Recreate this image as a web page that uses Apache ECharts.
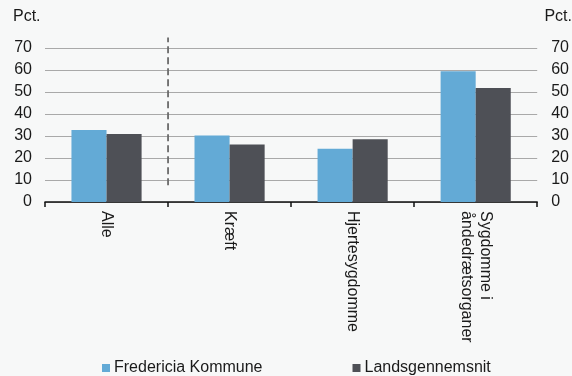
<!DOCTYPE html>
<html><head><meta charset="utf-8">
<script src="https://cdn.jsdelivr.net/npm/echarts@6/dist/echarts.min.js"></script>
<style>html,body{margin:0;padding:0;background:#f7f8f8;}#c{width:572px;height:376px;}</style>
</head><body><div id="c"></div>
<script>
const categories = ['Alle', 'Kræft', 'Hjertesygdomme', 'Sygdomme i\nåndedrætsorganer'];
const fredericia = [32.7, 30.2, 24.2, 59.4];
const landsgennemsnit = [30.9, 26.1, 28.5, 51.8];
const yTicks = [0, 10, 20, 30, 40, 50, 60, 70];
const seriesNames = ['Fredericia Kommune', 'Landsgennemsnit'];
const dividerX = 1;
const dividerY = [7.6, 74.8];

const font = 'Liberation Sans, Arial, sans-serif';
const chart = echarts.init(document.getElementById('c'));
chart.setOption({
  backgroundColor: '#f7f8f8',
  animation: false,
  textStyle: {fontFamily: font},
  grid: {left: 45, right: 33, top: 48, bottom: 174, containLabel: false},
  graphic: [
    {type: 'text', left: 13, top: 9, style: {text: 'Pct.', font: '16px ' + font, fill: '#1a1a1a'}},
    {type: 'text', right: 0, top: 9, style: {text: 'Pct.', font: '16px ' + font, fill: '#1a1a1a'}}
  ],
  legend: {
    top: 355, left: 97, itemGap: 90, itemWidth: 8, itemHeight: 8, icon: 'rect',
    textStyle: {fontSize: 16, color: '#1a1a1a', fontFamily: font, padding: [0,0,0,-1]},
    data: seriesNames
  },
  xAxis: [{
    type: 'category', data: categories,
    axisLine: {lineStyle: {color: '#111', width: 1.5}},
    axisTick: {show: true, length: 5, lineStyle: {color: '#111', width: 1.5}},
    axisLabel: {rotate: -90, fontSize: 16, color: '#1a1a1a', margin: 9, lineHeight: 19, fontFamily: font},
    splitLine: {show: false}
  }, {
    type: 'value', min: 0, max: 4, show: false
  }],
  yAxis: [{
    type: 'value', min: 0, max: 70, interval: 10, position: 'left',
    axisLine: {show: false}, axisTick: {show: false},
    axisLabel: {fontSize: 16, color: '#1a1a1a', margin: 13, fontFamily: font},
    splitLine: {lineStyle: {color: '#a9a9a9', width: 1}}
  }, {
    type: 'value', min: 0, max: 70, interval: 10, position: 'right',
    axisLine: {show: false}, axisTick: {show: false},
    axisLabel: {fontSize: 16, color: '#1a1a1a', margin: 14, fontFamily: font},
    splitLine: {show: false}
  }],
  series: [{
    name: seriesNames[0], type: 'bar', data: fredericia,
    barGap: '0%', barCategoryGap: '43%',
    itemStyle: {color: '#63aad6'}
  }, {
    name: seriesNames[1], type: 'bar', data: landsgennemsnit,
    itemStyle: {color: '#4e5056'}
  }, {
    type: 'line', xAxisIndex: 1, yAxisIndex: 0, clip: false, symbol: 'none',
    data: [[dividerX, dividerY[0]], [dividerX, dividerY[1]]],
    lineStyle: {color: '#6b6b6b', width: 1.8, type: [7, 4]},
    silent: true
  }]
});
</script></body></html>
